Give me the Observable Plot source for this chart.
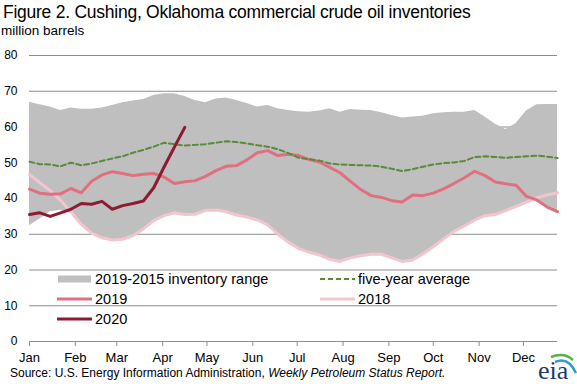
<!DOCTYPE html>
<html>
<head>
<meta charset="utf-8">
<script src="https://cdn.jsdelivr.net/npm/d3@7"></script>
<script src="https://cdn.jsdelivr.net/npm/@observablehq/plot@0.6"></script>
<style>
  html, body { margin: 0; padding: 0; background: #fff; }
  #wrap { position: relative; width: 577px; height: 384px; overflow: hidden; font-family: "Liberation Sans", Arial, sans-serif; color: #000; }
  #wrap svg.plot { position: absolute; left: 0; top: 0; }
  .abs { position: absolute; white-space: nowrap; line-height: 1; }
</style>
</head>
<body>
<div id="wrap"></div>
<script>
// ---- data (million barrels, weekly, week 1 = first week of January) ----
const weekStart = "2019-01-01";
const monthLabels = ["Jan","Feb","Mar","Apr","May","Jun","Jul","Aug","Sep","Oct","Nov","Dec"];
const yTicks = [0,10,20,30,40,50,60,70,80];

const rangeMax = [66.9,66.2,65.6,64.6,65.3,65.0,65.0,65.3,66.0,66.8,67.3,67.7,68.8,69.3,69.3,68.5,
  67.4,66.8,67.8,68.1,67.4,66.6,65.6,66.0,65.1,64.6,64.3,64.1,64.5,65.1,64.1,64.9,64.7,64.6,64.0,
  63.2,62.5,62.8,63.0,63.7,64.0,64.1,64.1,64.6,62.8,60.8,59.3,61.0,64.5,66.2,66.3,66.3];
const rangeMin = [32.4,34.3,36.3,36.7,35.9,32.8,30.3,29.0,28.4,28.6,29.6,31.5,33.8,35.2,36.0,35.5,
  35.6,36.7,36.8,36.3,35.4,34.8,34.0,32.6,30.0,27.8,26.0,25.0,24.2,23.0,22.4,23.4,24.0,24.4,24.4,
  23.4,22.4,22.8,24.5,26.5,28.7,30.8,32.3,34.0,35.2,35.5,36.6,37.8,39.0,39.6,37.6,36.3];
const fiveYearAvg = [50.3,49.6,49.5,49.0,50.0,49.3,49.8,50.5,51.2,51.8,52.8,53.6,54.5,55.6,55.2,54.8,
  55.0,55.2,55.6,56.0,55.8,55.4,54.9,54.5,53.8,52.7,51.4,51.0,50.6,49.8,49.5,49.4,49.3,49.2,48.9,
  48.3,47.7,48.2,48.9,49.5,49.9,50.1,50.5,51.6,51.8,51.6,51.4,51.6,51.8,52.0,51.7,51.3];
const y2019 = [42.6,41.5,41.2,41.3,42.8,41.6,44.8,46.6,47.5,47.0,46.4,46.8,47.0,46.0,44.2,44.7,
  45.0,46.2,47.8,49.0,49.2,50.8,52.8,53.4,52.0,52.4,52.0,50.9,50.2,48.7,47.2,44.8,42.5,40.8,40.3,
  39.4,39.0,41.0,40.8,41.5,42.7,44.2,45.8,47.6,46.4,44.6,44.1,43.7,40.6,39.6,37.6,36.3];
const y2018 = [46.7,44.4,42.2,39.5,36.3,32.8,30.3,29.0,28.4,28.6,29.6,31.5,33.8,35.2,36.0,35.5,
  35.6,36.7,36.8,36.3,35.4,34.8,34.0,32.6,30.0,27.8,26.0,25.0,24.2,23.0,22.4,23.4,24.0,24.4,24.4,
  23.4,22.4,22.8,24.5,26.5,28.7,30.8,32.3,34.0,35.2,35.5,36.6,37.8,39.0,40.2,41.0,41.6];
const y2020 = [35.5,36.0,35.0,36.0,37.0,38.6,38.4,39.2,37.0,38.0,38.6,39.3,43.0,48.8,54.4,59.9];

// ---- tables built from the arrays ----
const t0 = new Date(weekStart + "T00:00:00Z");
const weekDate = i => new Date(t0.getTime() + i * 7 * 864e5);
const rows = rangeMax.map((mx, i) => ({date: weekDate(i), max: mx, min: rangeMin[i],
  avg: fiveYearAvg[i], v2019: y2019[i], v2018: y2018[i]}));
const rows2020 = y2020.map((v, i) => ({date: weekDate(i), v}));
const monthTicks = monthLabels.map((m, i) => new Date(Date.UTC(2019, i, 1)));

const C = {range: "#bfbfbf", avg: "#5a8a3a", c2019: "#e0707f", c2018: "#f3c6cf", c2020: "#8e1b33", grid: "#8c8c8c"};

const chart = Plot.plot({
  width: 577, height: 384,
  marginTop: 55, marginBottom: 43, marginLeft: 29, marginRight: 20,
  style: {fontFamily: "'Liberation Sans', Arial, sans-serif", fontSize: "12px", color: "#000", background: "transparent"},
  x: {type: "utc", domain: [t0, weekDate(rangeMax.length - 1)]},
  y: {domain: [0, 80]},
  marks: [
    Plot.ruleY(yTicks.filter(d => d > 0), {stroke: C.grid, strokeWidth: 1}),
    Plot.areaY(rows, {x: "date", y1: "min", y2: "max", fill: C.range}),
    Plot.lineY(rows, {x: "date", y: "v2018", stroke: C.c2018, strokeWidth: 3}),
    Plot.lineY(rows, {x: "date", y: "v2019", stroke: C.c2019, strokeWidth: 3}),
    Plot.lineY(rows, {x: "date", y: "avg", stroke: C.avg, strokeWidth: 2, strokeDasharray: "5,3"}),
    Plot.lineY(rows2020, {x: "date", y: "v", stroke: C.c2020, strokeWidth: 3}),
    Plot.ruleY([0], {stroke: C.grid, strokeWidth: 1}),
    Plot.axisY({ticks: yTicks, tickSize: 0, tickPadding: 12, label: null, fontSize: 12, fill: "#000"}),
    Plot.axisX({ticks: monthTicks, tickFormat: d => monthLabels[d.getUTCMonth()], tickSize: 5,
      tickPadding: 6, label: null, fontSize: 13, stroke: C.grid, fill: "#000"})
  ]
});
chart.classList.add("plot");
const wrap = document.getElementById("wrap");
wrap.appendChild(chart);

function addText(txt, left, baseline, size, extra) {
  const d = document.createElement("div");
  d.className = "abs";
  d.innerHTML = txt;
  d.style.left = left + "px";
  d.style.top = (baseline - 0.8465 * size) + "px";
  d.style.fontSize = size + "px";
  if (extra) Object.assign(d.style, extra);
  wrap.appendChild(d);
  return d;
}

addText("Figure 2. Cushing, Oklahoma commercial crude oil inventories", 3, 18.5, 17.5, {letterSpacing: "-0.25px"});
addText("million barrels", 1, 35, 13.5);
addText("Source: U.S. Energy Information Administration, <i>Weekly Petroleum Status Report.</i>", 10, 377, 12);

// legend
const legendItems = [
  {label: "2019-2015 inventory range", kind: "rect", color: C.range, col: 0, row: 0},
  {label: "2019", kind: "line", color: C.c2019, col: 0, row: 1},
  {label: "2020", kind: "line", color: C.c2020, col: 0, row: 2},
  {label: "five-year average", kind: "dash", color: C.avg, col: 1, row: 0},
  {label: "2018", kind: "line", color: C.c2018, col: 1, row: 1}
];
const colX = [57, 320];
const ns = "http://www.w3.org/2000/svg";
legendItems.forEach(it => {
  const cy = 279 + it.row * 20;
  const x = colX[it.col];
  const s = document.createElementNS(ns, "svg");
  s.setAttribute("width", 36); s.setAttribute("height", 10);
  s.style.position = "absolute"; s.style.left = x + "px"; s.style.top = (cy - 5) + "px";
  let el;
  if (it.kind === "rect") {
    el = document.createElementNS(ns, "rect");
    el.setAttribute("x", 1); el.setAttribute("y", 1.5); el.setAttribute("width", 33); el.setAttribute("height", 7);
    el.setAttribute("fill", it.color);
  } else {
    el = document.createElementNS(ns, "line");
    el.setAttribute("x1", 0); el.setAttribute("x2", 35); el.setAttribute("y1", 5); el.setAttribute("y2", 5);
    el.setAttribute("stroke", it.color);
    el.setAttribute("stroke-width", it.kind === "dash" ? 2 : 3);
    if (it.kind === "dash") el.setAttribute("stroke-dasharray", "5,3");
  }
  s.appendChild(el);
  wrap.appendChild(s);
  addText(it.label, x + 38, cy + 5, 14.5);
});

// eia logo mark
addText("eia", 538, 380, 26, {fontFamily: "'Liberation Serif', serif", color: "#1d3a6b"});
const logo = document.createElementNS(ns, "svg");
logo.setAttribute("width", 29); logo.setAttribute("height", 25);
logo.style.position = "absolute"; logo.style.left = "548px"; logo.style.top = "352px";
[["#2e9ad0", "M7 10 Q20 4 28 21"], ["#58b04a", "M3 5 Q16 0 25 8"]].forEach(([c, dd]) => {
  const p = document.createElementNS(ns, "path");
  p.setAttribute("d", dd); p.setAttribute("fill", "none"); p.setAttribute("stroke", c); p.setAttribute("stroke-width", 2.5);
  logo.appendChild(p);
});
wrap.appendChild(logo);
</script>
</body>
</html>
